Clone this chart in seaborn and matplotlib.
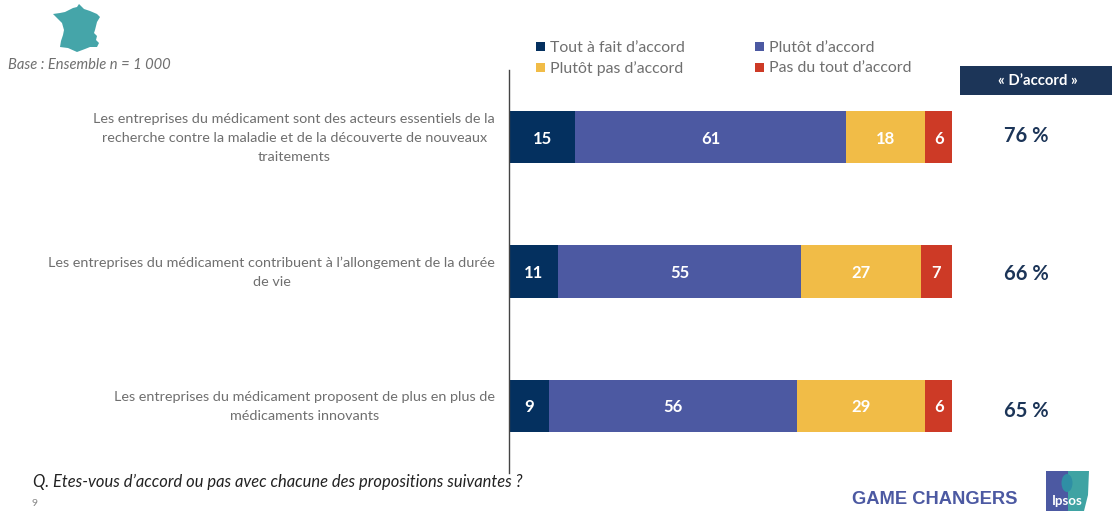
import matplotlib
matplotlib.use('Agg')
import matplotlib.pyplot as plt
import numpy as np
import seaborn as sns
from matplotlib.patches import Ellipse, Polygon, Rectangle

# Values
statements = [
    "Les entreprises du médicament sont des acteurs essentiels de la\nrecherche contre la maladie et de la découverte de nouveaux\ntraitements",
    "Les entreprises du médicament contribuent à l’allongement de la durée\nde vie",
    "Les entreprises du médicament proposent de plus en plus de\nmédicaments innovants",
]
answers = ["Tout à fait d’accord", "Plutôt d’accord", "Plutôt pas d’accord", "Pas du tout d’accord"]
tout_a_fait = [15, 11, 9]
plutot = [61, 55, 56]
plutot_pas = [18, 27, 29]
pas_du_tout = [6, 7, 6]
agree_labels = ["76 %", "66 %", "65 %"]
colors = ['#04305f', '#4c59a2', '#f1bc47', '#cd3a26']

W, H = 1112, 511
sns.set_theme(style='white')
plt.rcParams['font.family'] = ['Lato', 'DejaVu Sans']

fig = plt.figure(figsize=(W / 100, H / 100), dpi=100)
# axes box in pixels: x 509-952, y 70-473
ax = fig.add_axes([509 / W, 1 - 473 / H, 443 / W, 403 / H])


def px(x, y):
    return x / W, 1 - y / H


# Stacked bars
series = [tout_a_fait, plutot, plutot_pas, pas_du_tout]
left = np.zeros(3)
for vals, name, col in zip(series, answers, colors):
    sns.barplot(x=vals, y=statements, left=left, color=col, saturation=1, width=0.39,
                orient='h', ax=ax, linewidth=0)
    for i, v in enumerate(vals):
        ax.text(left[i] + v / 2, i + 0.012, str(v), ha='center', va='center', color='white',
                fontsize=12, fontweight='bold')
    left = left + np.array(vals)

ax.set_xlim(0, 100)
ax.set_ylim(2.5, -0.5)
ax.set_xticks([])
ax.set_ylabel('')
ax.set_yticks(range(3))
ax.set_yticklabels([])
ax.tick_params(axis='y', length=0)
# statements as annotations, so they can be nudged against the bar centres
for i, s in enumerate(statements):
    ax.annotate(s, xy=(0, i), xycoords=('axes fraction', 'data'), xytext=(-10, -0.5),
                textcoords='offset points', fontsize=10.38, color='#6f6f6f', ha='right',
                va='center', multialignment='center', linespacing=1.72)
sns.despine(ax=ax, top=True, right=True, bottom=True)
ax.spines['left'].set_color('#444444')
ax.spines['left'].set_linewidth(1)

# Legend, placed by hand like the slide
legend_pos = [(536, 46), (755, 46), (536, 67), (755, 67)]
for (x, y), name, col in zip(legend_pos, answers, colors):
    fig.patches.append(Rectangle(px(x, y + 5), 9 / W, 9 / H, transform=fig.transFigure,
                                 facecolor=col, edgecolor='none'))
    fig.text(*px(x + 14, y + 1.5), name, fontsize=11.4, color='#6f6f6f', va='center')

# "D'accord" column
fig.patches.append(Rectangle(px(960, 95), 152 / W, 29 / H, transform=fig.transFigure,
                             facecolor='#1c3558', edgecolor='none'))
fig.text(*px(1038, 81), "« D’accord »", fontsize=10.7, fontweight='bold', color='white',
         ha='center', va='center')
for y, lab in zip([135.5, 273.5, 410.5], agree_labels):
    fig.text(*px(1026, y), lab, fontsize=14.5, fontweight='bold', color='#1c3558',
             ha='center', va='center')

# Notes
fig.text(*px(8, 65), "Base : Ensemble n = 1 000", fontsize=10.6, style='italic', color='#6f6f6f', va='center')
fig.text(*px(33, 482), "Q. Etes-vous d’accord ou pas avec chacune des propositions suivantes ?",
         fontsize=11.9, style='italic', color='#222222', va='center')
fig.text(*px(35, 503), "9", fontsize=7.5, color='#888888', ha='center', va='center')
fig.text(*px(934.5, 499), "GAME CHANGERS", fontsize=13.2, fontweight='bold', color='#4c59a2',
         ha='center', va='center', family='Liberation Sans')

# France silhouette (decoration)
france = [(79, 4), (84, 9), (90, 11), (97, 14), (100, 17), (97, 22), (95, 30), (94, 33),
          (97, 36), (96, 40), (99, 43), (97, 47), (90, 47), (85, 49), (77, 52), (68, 48), (60, 47),
          (61, 41), (63, 35), (64, 30), (62, 23), (57, 18), (53, 14), (60, 13), (65, 12),
          (67, 11), (73, 8), (77, 7)]
fig.patches.append(Polygon([px(*p) for p in france], closed=True, transform=fig.transFigure,
                           facecolor='#45a5a9', edgecolor='none'))

# Ipsos logo (decoration)
fig.patches.append(Polygon([px(*p) for p in [(1046, 471), (1068, 471), (1068, 511), (1046, 511)]],
                           closed=True, transform=fig.transFigure, facecolor='#4c59a2', edgecolor='none'))
fig.patches.append(Polygon([px(*p) for p in [(1068, 471), (1089, 471), (1088, 495), (1084, 511), (1068, 511)]],
                           closed=True, transform=fig.transFigure, facecolor='#3fa3a3', edgecolor='none'))
fig.patches.append(Ellipse(px(1067, 483), 11 / W, 18 / H, transform=fig.transFigure,
                           facecolor='#2f8fa5', edgecolor='none'))
fig.text(*px(1067, 501), "Ipsos", fontsize=9.5, fontweight='bold', color='white', ha='center', va='center')

fig.savefig('out.png', dpi=100, facecolor='white')
